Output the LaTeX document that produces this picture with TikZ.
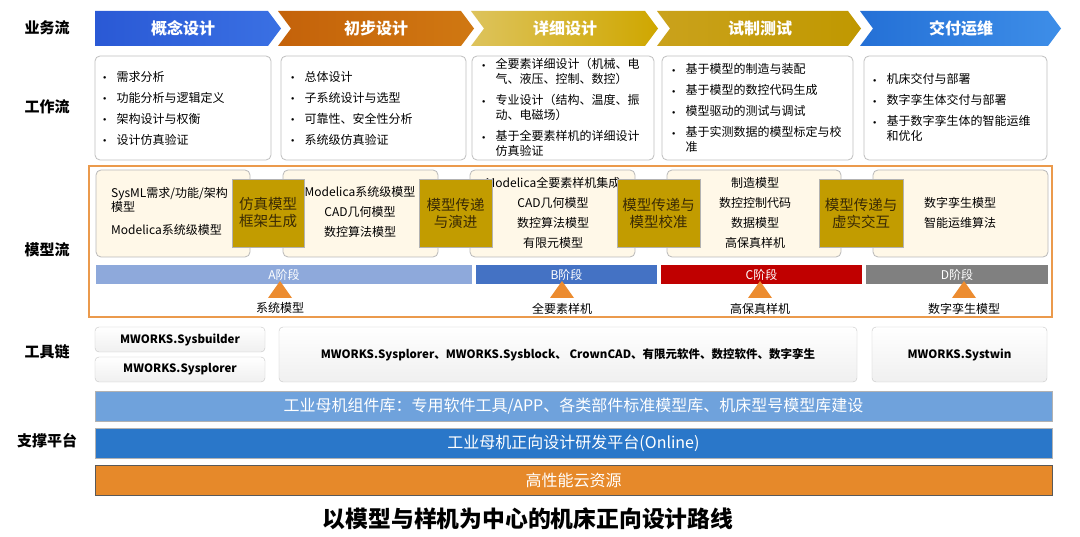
\documentclass[tikz,border=0pt]{standalone}
\usepackage{fontspec}
\setmainfont{Noto Sans CJK SC}
\usepackage{tikz}
\usetikzlibrary{calc}

\definecolor{bizblueL}{HTML}{2A59D5}
\definecolor{bizblueR}{HTML}{3A70E3}
\definecolor{bizorangeL}{HTML}{C4620A}
\definecolor{bizorangeR}{HTML}{D07812}
\definecolor{bizgoldL}{HTML}{DDC35C}
\definecolor{bizgoldR}{HTML}{CFA700}
\definecolor{bizolivL}{HTML}{CAA21C}
\definecolor{bizolivR}{HTML}{C09800}
\definecolor{bizskyL}{HTML}{2470D6}
\definecolor{bizskyR}{HTML}{3E8EE8}
\definecolor{cream}{HTML}{FFF8E8}
\definecolor{goldfill}{HTML}{C29C00}
\definecolor{goldtext}{HTML}{3A2A05}
\definecolor{flowedge}{HTML}{EB9A4C}
\definecolor{markorange}{HTML}{EC8C30}
\definecolor{phaseA}{HTML}{8EA9DB}
\definecolor{phaseB}{HTML}{4472C4}
\definecolor{phaseC}{HTML}{C00000}
\definecolor{phaseD}{HTML}{808080}
\definecolor{libblue}{HTML}{6FA2DC}
\definecolor{platblue}{HTML}{2A77C9}
\definecolor{cloudorange}{HTML}{E6892A}

\newcommand{\wbul}{\raisebox{0.25ex}{\scalebox{0.55}{$\bullet$}}}

\begin{document}
\begin{tikzpicture}[x=1pt, y=-1pt,
    every node/.style={inner sep=0pt},
    rowname/.style={font=\fontsize{15}{18}\selectfont\bfseries},
    stagename/.style={font=\fontsize{16}{18}\selectfont\bfseries, text=white},
    workbox/.style={draw=gray!50, fill=white, rounded corners=5pt, line width=0.8pt, minimum height=104pt},
    worklist/.style={anchor=west, font=\fontsize{12}{15}\selectfont},
    modelbox/.style={draw=gray!55, fill=cream, rounded corners=5pt, line width=0.8pt, minimum height=87pt},
    modeltext/.style={align=center, font=\fontsize{12}{20}\selectfont},
    goldbox/.style={draw=gray!60, fill=goldfill, minimum height=68pt, align=center, text=goldtext, font=\fontsize{14.5}{17}\selectfont},
    phasebar/.style={minimum height=19pt, text=white, font=\fontsize{12}{14}\selectfont},
    phasename/.style={font=\fontsize{12}{14}\selectfont},
    toolbox/.style={draw=gray!45, top color=white, bottom color=gray!12, rounded corners=4pt, font=\fontsize{11.5}{14}\selectfont\bfseries},
    platbar/.style={draw=gray!60, minimum width=957pt, minimum height=30pt, text=white, font=\fontsize{16}{18}\selectfont}
]
    \useasboundingbox[fill=white] (0,0) rectangle (1080,537);

    % row names
    \node[rowname] (rbiz) at (47,28) {业务流};
    \node[rowname] (rwork) at (47,107) {工作流};
    \node[rowname] (rmodel) at (47,250) {模型流};
    \node[rowname] (rtool) at (47,352) {工具链};
    \node[rowname] (rplat) at (47,441) {支撑平台};

    % business flow chevrons
    \shade[left color=bizblueL, right color=bizblueR] (95,11) -- (268,11) -- (281,28.5) -- (268,46) -- (95,46) -- cycle;
    \shade[left color=bizorangeL, right color=bizorangeR] (278,11) -- (461,11) -- (474,28.5) -- (461,46) -- (278,46) -- (291,28.5) -- cycle;
    \shade[left color=bizgoldL, right color=bizgoldR] (471,11) -- (645,11) -- (658,28.5) -- (645,46) -- (471,46) -- (484,28.5) -- cycle;
    \shade[left color=bizolivL, right color=bizolivR] (657,11) -- (848,11) -- (861,28.5) -- (848,46) -- (657,46) -- (670,28.5) -- cycle;
    \shade[left color=bizskyL, right color=bizskyR] (860,11) -- (1048,11) -- (1061,28.5) -- (1048,46) -- (860,46) -- (873,28.5) -- cycle;
    \node[stagename] (biz1) at (183,28.5) {概念设计};
    \node[stagename] (biz2) at (376,28.5) {初步设计};
    \node[stagename] (biz3) at (565,28.5) {详细设计};
    \node[stagename] (biz4) at (760,28.5) {试制测试};
    \node[stagename] (biz5) at (961,28.5) {交付运维};

    % work flow boxes
    \node[workbox, minimum width=176pt] (work1) at (183,108) {};
    \node[workbox, minimum width=185pt] (work2) at (373.5,108) {};
    \node[workbox, minimum width=182pt] (work3) at (563,108) {};
    \node[workbox, minimum width=191pt] (work4) at (757.5,108) {};
    \node[workbox, minimum width=183pt] (work5) at (955.5,108) {};

    \node[worklist] (list1) at (103,110) {\begin{tabular}{@{}l@{\hspace{10pt}}l@{}}
        \wbul & 需求分析\\[6pt]
        \wbul & 功能分析与逻辑定义\\[6pt]
        \wbul & 架构设计与权衡\\[6pt]
        \wbul & 设计仿真验证
    \end{tabular}};
    \node[worklist] (list2) at (291,110) {\begin{tabular}{@{}l@{\hspace{10pt}}l@{}}
        \wbul & 总体设计\\[6pt]
        \wbul & 子系统设计与选型\\[6pt]
        \wbul & 可靠性、安全性分析\\[6pt]
        \wbul & 系统级仿真验证
    \end{tabular}};
    \node[worklist] (list3) at (482,109.5) {\begin{tabular}{@{}l@{\hspace{10pt}}l@{}}
        \wbul & 全要素详细设计（机械、电\\
              & 气、液压、控制、数控）\\[6pt]
        \wbul & 专业设计（结构、温度、振\\
              & 动、电磁场）\\[6pt]
        \wbul & 基于全要素样机的详细设计\\
              & 仿真验证
    \end{tabular}};
    \node[worklist] (list4) at (672,110) {\begin{tabular}{@{}l@{\hspace{10pt}}l@{}}
        \wbul & 基于模型的制造与装配\\[6pt]
        \wbul & 基于模型的数控代码生成\\[6pt]
        \wbul & 模型驱动的测试与调试\\[6pt]
        \wbul & 基于实测数据的模型标定与校\\
              & 准
    \end{tabular}};
    \node[worklist] (list5) at (873,109.5) {\begin{tabular}{@{}l@{\hspace{10pt}}l@{}}
        \wbul & 机床交付与部署\\[6pt]
        \wbul & 数字孪生体交付与部署\\[6pt]
        \wbul & 基于数字孪生体的智能运维\\
              & 和优化
    \end{tabular}};

    % model flow frame
    \node[draw=flowedge, line width=1.2pt, minimum width=963pt, minimum height=151pt] (mflow) at (570.5,241.5) {};

    % model boxes
    \node[modelbox, minimum width=154pt] (model1) at (173,213.5) {};
    \node[modelbox, minimum width=155pt] (model2) at (360.5,213.5) {};
    \node[modelbox, minimum width=165pt] (model3) at (552.5,213.5) {};
    \node[modelbox, minimum width=174pt] (model4) at (754,213.5) {};
    \node[modelbox, minimum width=175pt] (model5) at (960.5,213.5) {};

    \node[anchor=west, align=left, font=\fontsize{12}{14}\selectfont] (mtext1) at (111,211.5) {SysML需求/功能/架构\\模型\\[9pt]Modelica系统级模型};
    \node[modeltext] (mtext2) at (360,212) {Modelica系统级模型\\CAD几何模型\\数控算法模型};
    \node[modeltext] (mtext3) at (553,212.5) {Modelica全要素样机集成\\CAD几何模型\\数控算法模型\\有限元模型};
    \node[modeltext] (mtext4) at (755,212.5) {制造模型\\数控控制代码\\数据模型\\高保真样机};
    \node[modeltext] (mtext5) at (960,212.5) {数字孪生模型\\智能运维算法};

    % gold transfer boxes
    \node[goldbox, minimum width=72pt] (gold1) at (268,213) {仿真模型\\框架生成};
    \node[goldbox, minimum width=73pt] (gold2) at (455.5,213) {模型传递\\与演进};
    \node[goldbox, minimum width=83pt] (gold3) at (658.5,213) {模型传递与\\模型校准};
    \node[goldbox, minimum width=84pt] (gold4) at (861,213) {模型传递与\\虚实交互};

    % phase bars
    \node[phasebar, fill=phaseA, minimum width=376pt] (phA) at (284,274.5) {A阶段};
    \node[phasebar, fill=phaseB, minimum width=181pt] (phB) at (566.5,274.5) {B阶段};
    \node[phasebar, fill=phaseC, minimum width=201pt] (phC) at (761.5,274.5) {C阶段};
    \node[phasebar, fill=phaseD, minimum width=182pt] (phD) at (957,274.5) {D阶段};

    % milestone marks
    \fill[markorange] (268,298) -- (280,281) -- (292,298) -- cycle;
    \fill[markorange] (550,298) -- (562,281) -- (574,298) -- cycle;
    \fill[markorange] (748,298) -- (760,281) -- (772,298) -- cycle;
    \fill[markorange] (952,298) -- (964,281) -- (976,298) -- cycle;
    \node[phasename] (mileA) at (280,308) {系统模型};
    \node[phasename] (mileB) at (562,309) {全要素样机};
    \node[phasename] (mileC) at (760,309) {高保真样机};
    \node[phasename] (mileD) at (964,309) {数字孪生模型};

    % tool chain
    \node[toolbox, minimum width=170pt, minimum height=25pt] (tool1) at (180,339.5) {MWORKS.Sysbuilder};
    \node[toolbox, minimum width=170pt, minimum height=25pt] (tool2) at (180,369.5) {MWORKS.Sysplorer};
    \node[toolbox, minimum width=578pt, minimum height=55pt] (tool3) at (568,354.5) {MWORKS.Sysplorer、MWORKS.Sysblock、 CrownCAD、有限元软件、数控软件、数字孪生};
    \node[toolbox, minimum width=175pt, minimum height=55pt] (tool4) at (959.5,354.5) {MWORKS.Systwin};

    % support platform
    \node[platbar, fill=libblue] (plat1) at (573.5,406) {工业母机组件库：专用软件工具/APP、各类部件标准模型库、机床型号模型库建设};
    \node[platbar, fill=platblue] (plat2) at (573.5,443) {工业母机正向设计研发平台(Online)};
    \node[platbar, fill=cloudorange, draw=gray!70!black] (plat3) at (573.5,480) {高性能云资源};

    % caption
    \node[font=\fontsize{22.8}{26}\selectfont\bfseries] (caption) at (528,519) {以模型与样机为中心的机床正向设计路线};
\end{tikzpicture}
\end{document}
